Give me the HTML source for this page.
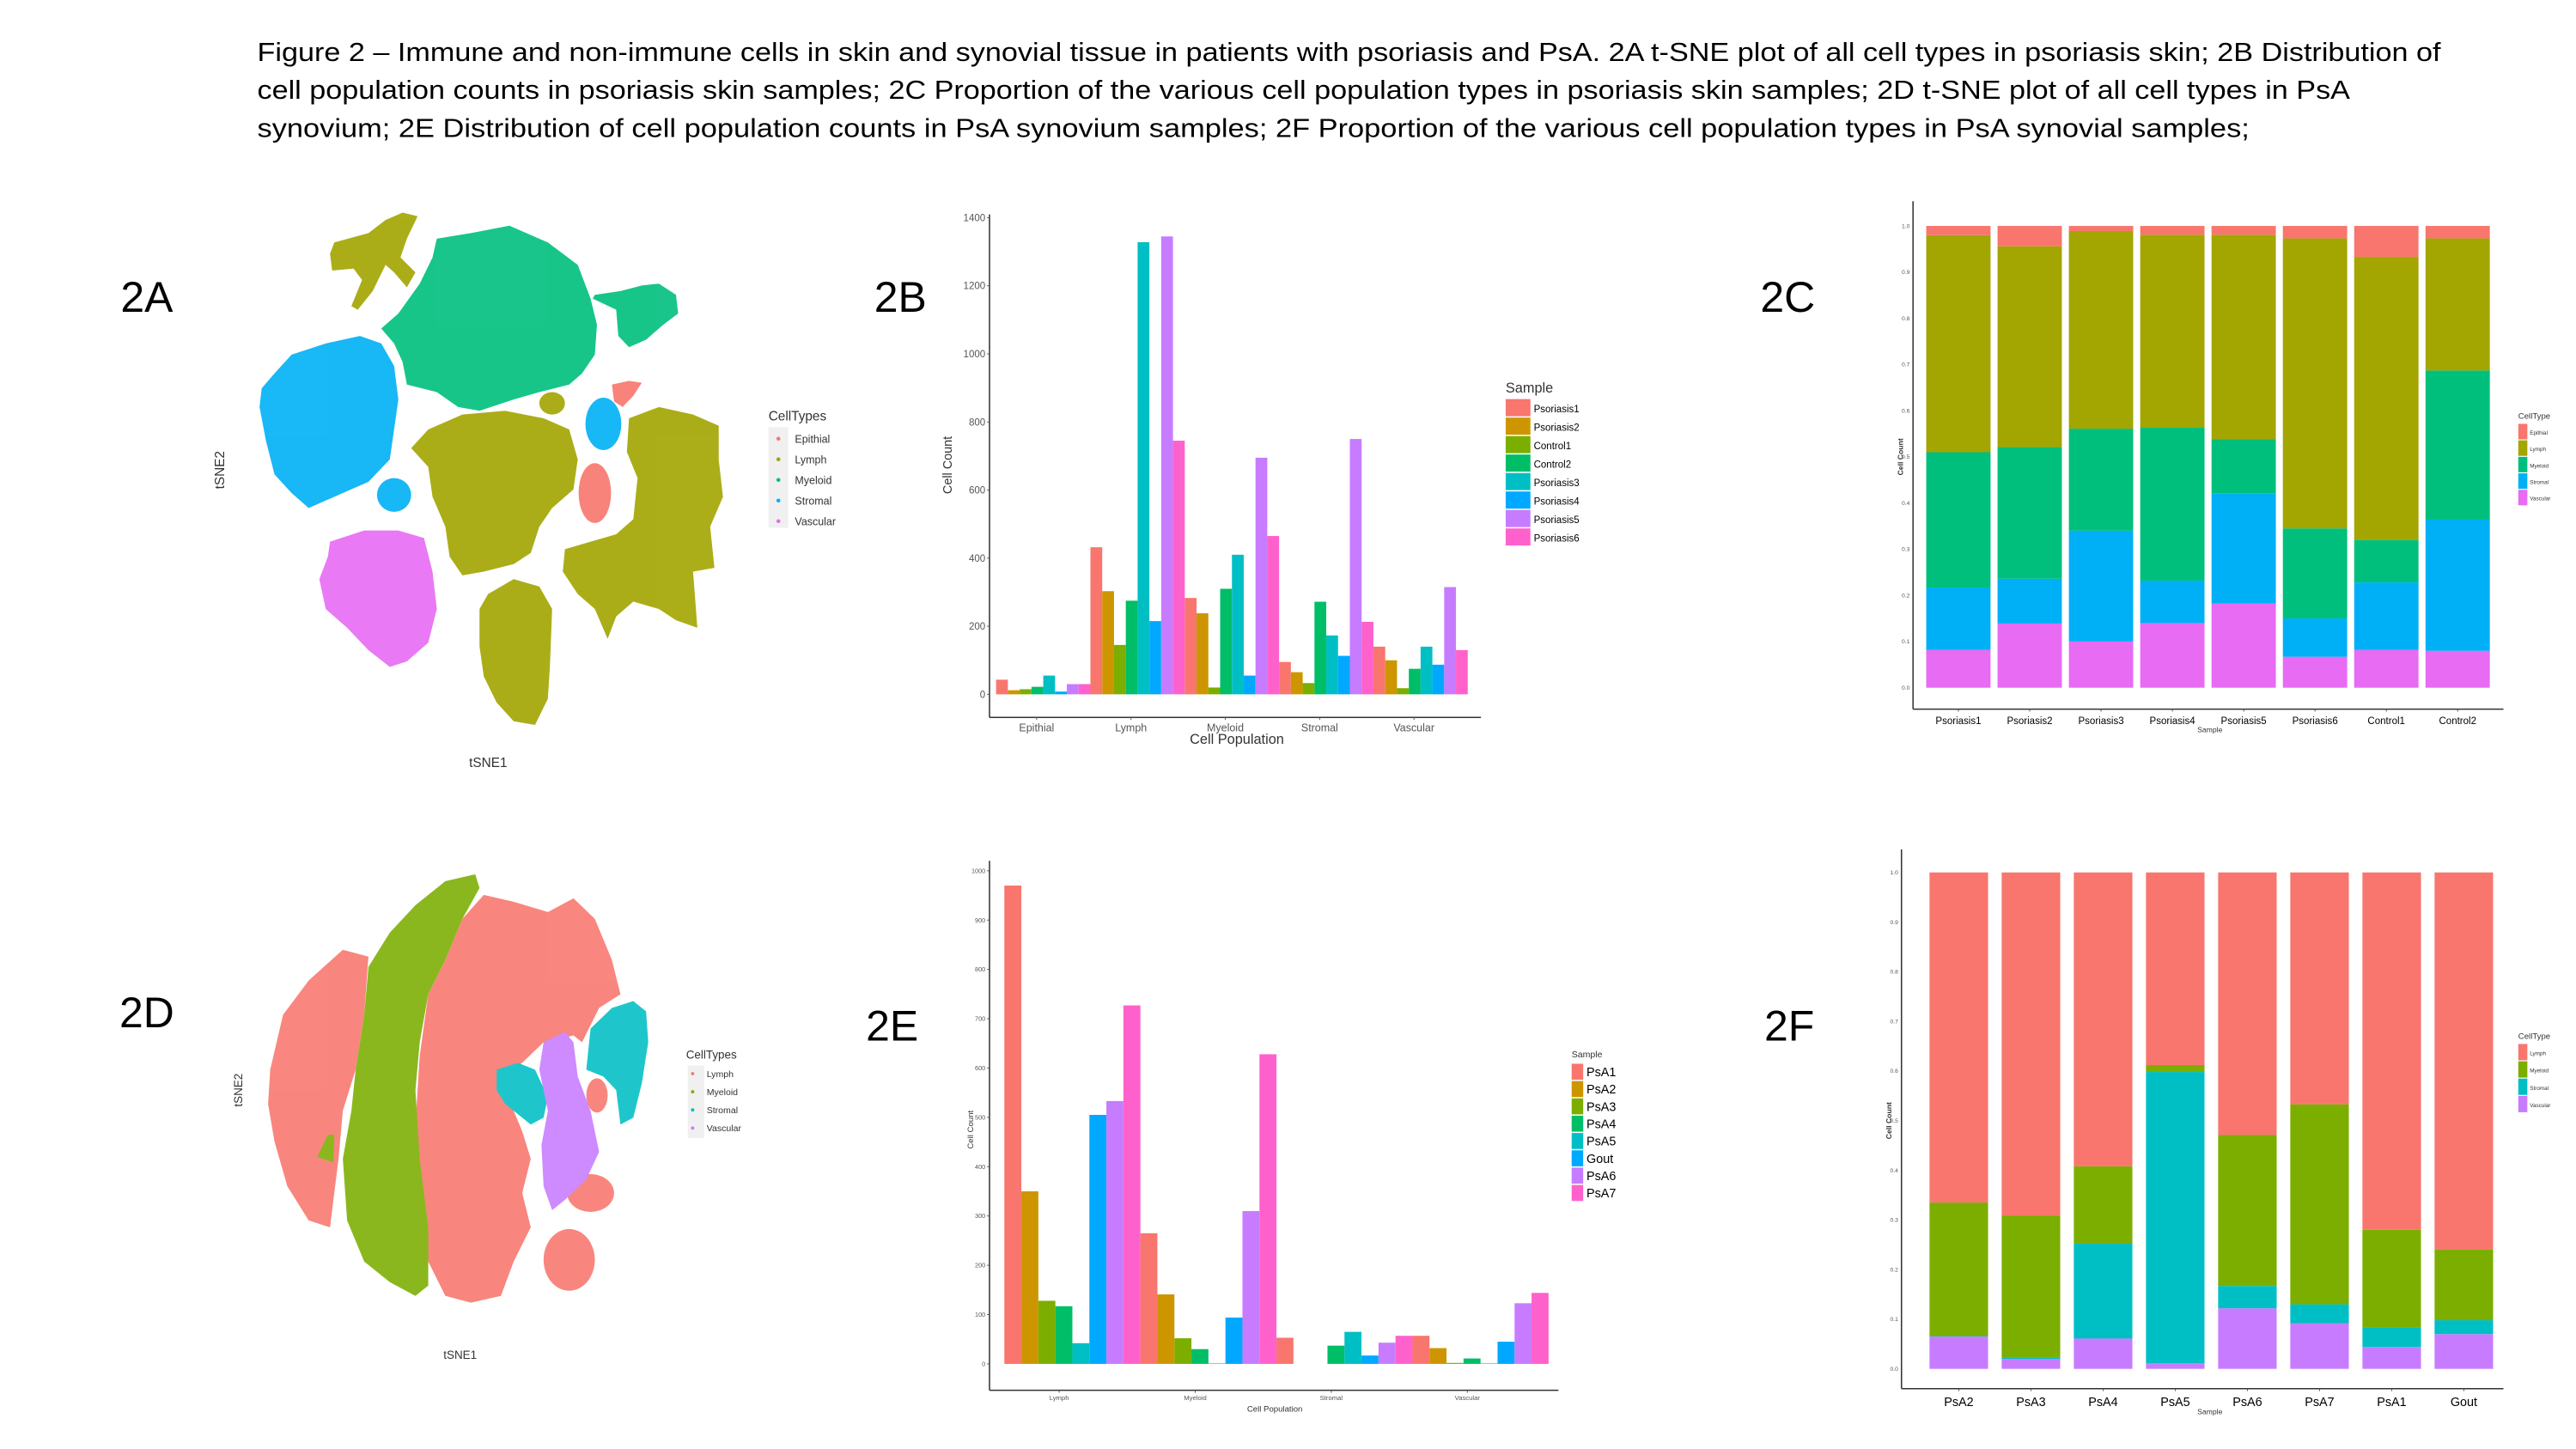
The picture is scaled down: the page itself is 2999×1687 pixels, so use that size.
<!DOCTYPE html>
<html><head><meta charset="utf-8">
<style>
html,body{margin:0;padding:0;background:#fff;}
svg{display:block;}
text{font-family:"Liberation Sans",sans-serif;}
</style></head>
<body>
<svg id="fig" xmlns="http://www.w3.org/2000/svg" width="2999" height="1687" viewBox="0 0 1562 878.6" preserveAspectRatio="none">
<rect width="1562" height="878.6" fill="#fff"/>
<g font-size="16" fill="#000">
<text x="156" y="37" textLength="1324" lengthAdjust="spacingAndGlyphs">Figure 2 – Immune and non-immune cells in skin and synovial tissue in patients with psoriasis and PsA. 2A t-SNE plot of all cell types in psoriasis skin; 2B Distribution of</text>
<text x="156" y="60" textLength="1269" lengthAdjust="spacingAndGlyphs">cell population counts in psoriasis skin samples; 2C Proportion of the various cell population types in psoriasis skin samples; 2D t-SNE plot of all cell types in PsA</text>
<text x="156" y="83" textLength="1208" lengthAdjust="spacingAndGlyphs">synovium; 2E Distribution of cell population counts in PsA synovium samples; 2F Proportion of the various cell population types in PsA synovial samples;</text>
</g>
<g font-size="26" fill="#000" text-anchor="middle">
<text x="89" y="189">2A</text>
<text x="546" y="189">2B</text>
<text x="1084" y="189">2C</text>
<text x="89" y="623">2D</text>
<text x="541" y="631">2E</text>
<text x="1085" y="631">2F</text>
</g>

<!-- 2A t-SNE -->
<g>
<g transform="translate(125,119.8) scale(0.259,0.2268)" opacity="0.9">
<path fill="#A3A500" d="M300,120 L380,95 L420,60 L460,40 L495,50 L470,110 L455,160 L490,200 L470,240 L440,200 L420,180 L390,250 L355,300 L340,290 L365,220 L345,190 L295,195 L290,150 Z"/>
<path fill="#00BF7D" d="M540,110 L620,95 L710,75 L800,120 L870,180 L900,270 L915,340 L910,420 L880,470 L850,500 L780,520 L720,540 L640,570 L590,560 L540,520 L470,500 L460,440 L440,390 L410,350 L450,310 L500,230 L530,160 Z"/>
<path fill="#00BF7D" d="M910,260 L970,250 L1020,235 L1060,230 L1100,260 L1105,310 L1070,340 L1030,380 L990,400 L965,370 L960,300 L905,270 Z"/>
<path fill="#00B0F6" d="M160,470 L200,420 L280,390 L360,370 L410,390 L440,450 L450,540 L440,620 L430,700 L380,760 L320,790 L240,830 L200,790 L160,740 L140,650 L125,560 L130,510 Z"/>
<ellipse fill="#00B0F6" cx="440" cy="795" rx="40" ry="45"/>
<ellipse fill="#00B0F6" cx="930" cy="605" rx="42" ry="70"/>
<path fill="#F8766D" d="M950,500 L990,490 L1020,495 L1000,530 L975,560 L955,545 Z"/>
<ellipse fill="#F8766D" cx="910" cy="790" rx="38" ry="80"/>
<path fill="#A3A500" d="M520,620 L600,580 L700,570 L790,590 L850,620 L870,700 L860,780 L810,830 L780,880 L760,950 L720,980 L650,1000 L600,1010 L570,960 L560,880 L530,800 L520,720 L480,670 Z"/>
<path fill="#A3A500" d="M660,1060 L720,1020 L780,1040 L810,1100 L805,1250 L800,1340 L770,1410 L720,1400 L680,1350 L650,1280 L640,1200 L640,1100 Z"/>
<path fill="#A3A500" d="M990,590 L1060,560 L1140,580 L1200,610 L1200,700 L1210,800 L1180,880 L1190,990 L1140,1000 L1150,1150 L1100,1130 L1060,1100 L1000,1080 L960,1120 L940,1180 L910,1100 L870,1060 L835,1000 L840,940 L900,920 L960,900 L1000,860 L1010,750 L985,680 Z"/>
<ellipse fill="#A3A500" cx="810" cy="550" rx="30" ry="30"/>
<path fill="#E76BF3" d="M290,920 L370,890 L450,890 L510,910 L530,1000 L540,1100 L520,1190 L470,1240 L430,1255 L380,1210 L330,1150 L280,1100 L265,1020 L285,960 Z"/>
</g>
<text x="296" y="465" font-size="8" fill="#333" text-anchor="middle">tSNE1</text>
<text transform="translate(136,285) rotate(-90)" font-size="8" fill="#333" text-anchor="middle">tSNE2</text>
<g>
<text x="466" y="255" font-size="8" fill="#333">CellTypes</text>
<rect x="466" y="259" width="12" height="61" fill="#f0f0f0"/>
<circle cx="472" cy="266" r="1.2" fill="#F8766D"/><text x="482" y="268.5" font-size="6.5" fill="#333">Epithial</text>
<circle cx="472" cy="278.5" r="1.2" fill="#A3A500"/><text x="482" y="281" font-size="6.5" fill="#333">Lymph</text>
<circle cx="472" cy="291" r="1.2" fill="#00BF7D"/><text x="482" y="293.5" font-size="6.5" fill="#333">Myeloid</text>
<circle cx="472" cy="303.5" r="1.2" fill="#00B0F6"/><text x="482" y="306" font-size="6.5" fill="#333">Stromal</text>
<circle cx="472" cy="316" r="1.2" fill="#E76BF3"/><text x="482" y="318.5" font-size="6.5" fill="#333">Vascular</text>
</g>
</g>

<!-- 2D t-SNE -->
<g>
<g transform="translate(125,515.6) scale(0.259,0.2078)" opacity="0.88">
<path fill="#F8766D" d="M150,640 L180,480 L240,380 L320,290 L380,310 L370,480 L350,640 L320,760 L310,900 L300,1000 L290,1100 L240,1080 L190,980 L160,850 L145,740 Z"/>
<path fill="#F8766D" d="M600,200 L650,130 L720,150 L800,180 L860,140 L910,200 L950,320 L970,420 L920,460 L880,560 L860,540 L790,560 L740,620 L690,660 L720,760 L740,820 L760,900 L740,1000 L760,1100 L720,1200 L690,1300 L620,1320 L560,1300 L520,1200 L500,1000 L490,800 L500,600 L520,420 L560,320 Z"/>
<ellipse fill="#F8766D" cx="850" cy="1195" rx="60" ry="90"/>
<ellipse fill="#F8766D" cx="900" cy="1000" rx="55" ry="55"/>
<ellipse fill="#F8766D" cx="915" cy="715" rx="25" ry="50"/>
<path fill="#7CAE00" d="M380,340 L430,240 L490,160 L560,90 L630,70 L640,110 L600,200 L560,320 L520,420 L500,560 L490,700 L500,900 L520,1100 L520,1270 L490,1300 L430,1260 L370,1200 L330,1080 L320,900 L340,760 L350,640 L370,480 Z"/>
<path fill="#7CAE00" d="M285,830 L300,830 L298,910 L260,895 Z"/>
<path fill="#00BFC4" d="M680,640 L730,620 L770,640 L800,720 L790,780 L760,800 L740,780 L700,740 L680,700 Z"/>
<path fill="#C77CFF" d="M790,560 L840,530 L860,560 L870,660 L900,760 L920,880 L890,960 L840,1020 L810,1050 L790,980 L785,860 L800,760 L780,640 Z"/>
<path fill="#00BFC4" d="M900,520 L950,460 L1000,440 L1030,470 L1035,560 L1020,680 L1000,780 L970,800 L960,700 L930,660 L890,640 Z"/>
</g>
<text x="279" y="824" font-size="7" fill="#333" text-anchor="middle">tSNE1</text>
<text transform="translate(147,661) rotate(-90)" font-size="7" fill="#333" text-anchor="middle">tSNE2</text>
<g>
<text x="416" y="642" font-size="7" fill="#333">CellTypes</text>
<rect x="417" y="646" width="10" height="44" fill="#f0f0f0"/>
<circle cx="420" cy="651" r="1" fill="#F8766D"/><text x="428.5" y="653" font-size="5.5" fill="#333">Lymph</text>
<circle cx="420" cy="662" r="1" fill="#7CAE00"/><text x="428.5" y="664" font-size="5.5" fill="#333">Myeloid</text>
<circle cx="420" cy="673" r="1" fill="#00BFC4"/><text x="428.5" y="675" font-size="5.5" fill="#333">Stromal</text>
<circle cx="420" cy="684" r="1" fill="#C77CFF"/><text x="428.5" y="686" font-size="5.5" fill="#333">Vascular</text>
</g>
</g>

<g id="c2b"></g>
<g id="c2c"></g>
<g id="c2e"></g>
<g id="c2f"></g>
</svg>

<script>
// ---------- 2B data ----------
const skinCategories = ["Epithial","Lymph","Myeloid","Stromal","Vascular"];
const skinSamples = ["Psoriasis1","Psoriasis2","Control1","Control2","Psoriasis3","Psoriasis4","Psoriasis5","Psoriasis6"];
const skinEpithial = [43,12,15,22,55,8,30,30];
const skinLymph = [432,303,145,275,1328,215,1345,745];
const skinMyeloid = [283,238,20,310,410,55,695,465];
const skinStromal = [95,65,33,272,173,113,750,213];
const skinVascular = [140,100,18,75,140,87,315,130];
const skinTicks = [0,200,400,600,800,1000,1200,1400];
// ---------- 2E data ----------
const synCategories = ["Lymph","Myeloid","Stromal","Vascular"];
const synSamples = ["PsA1","PsA2","PsA3","PsA4","PsA5","Gout","PsA6","PsA7"];
const synLymph = [970,350,128,117,42,505,533,727];
const synMyeloid = [265,141,52,30,1,94,310,628];
const synStromal = [53,0,0,37,65,17,43,57];
const synVascular = [57,32,2,11,1,45,123,144];
const synTicks = [0,100,200,300,400,500,600,700,800,900,1000];
// ---------- 2C data ----------
const propSkinSamples = ["Psoriasis1","Psoriasis2","Psoriasis3","Psoriasis4","Psoriasis5","Psoriasis6","Control1","Control2"];
const propSkinTypes = ["Epithial","Lymph","Myeloid","Stromal","Vascular"];
const propSkinVascular = [0.082,0.139,0.100,0.140,0.182,0.067,0.082,0.080];
const propSkinStromal = [0.135,0.097,0.240,0.092,0.239,0.083,0.146,0.284];
const propSkinMyeloid = [0.293,0.285,0.221,0.331,0.117,0.195,0.092,0.323];
const propSkinLymph = [0.470,0.435,0.428,0.418,0.443,0.628,0.613,0.286];
const propSkinEpithial = [0.020,0.044,0.011,0.019,0.019,0.027,0.067,0.027];
// ---------- 2F data ----------
const propSynSamples = ["PsA2","PsA3","PsA4","PsA5","PsA6","PsA7","PsA1","Gout"];
const propSynTypes = ["Lymph","Myeloid","Stromal","Vascular"];
const propSynVascular = [0.065,0.020,0.061,0.011,0.122,0.092,0.044,0.070];
const propSynStromal = [0.001,0.003,0.191,0.587,0.045,0.038,0.040,0.028];
const propSynMyeloid = [0.269,0.286,0.156,0.014,0.304,0.403,0.196,0.142];
const propSynLymph = [0.665,0.691,0.592,0.388,0.529,0.467,0.720,0.760];
const propTicks = [0,0.1,0.2,0.3,0.4,0.5,0.6,0.7,0.8,0.9,1.0];

const hue8 = ["#F8766D","#CD9600","#7CAE00","#00BE67","#00BFC4","#00A9FF","#C77CFF","#FF61CC"];
const hue5 = ["#F8766D","#A3A500","#00BF7D","#00B0F6","#E76BF3"];
const hue4 = ["#F8766D","#7CAE00","#00BFC4","#C77CFF"];
const NS = "http://www.w3.org/2000/svg";
function mk(parent, tag, attrs, txt){
  const e = document.createElementNS(NS, tag);
  for (const k in attrs) e.setAttribute(k, attrs[k]);
  if (txt !== undefined) e.textContent = txt;
  parent.appendChild(e);
  return e;
}

function groupedChart(g, o){
  const y = v => o.y0 - (v / o.vmax) * (o.y0 - o.yTop);
  const ns = o.series[0].length;
  const n = ns * o.cats.length;
  const bw = (o.x1 - o.x0) / n;
  const ya = mk(g,"line",{x1:o.ax,y1:o.axTop,x2:o.ax,y2:o.axY,stroke:"#333","stroke-width":0.8});
  
  
  const xa = mk(g,"line",{x1:o.ax,y1:o.axY,x2:o.axRight,y2:o.axY,stroke:"#333","stroke-width":0.8});
  
  
  o.ticks.forEach(t=>{
    const tl = mk(g,"text",{x:o.ax-2.5,y:y(t)+o.tfs*0.35,"font-size":o.tfs,fill:"#555","text-anchor":"end"},String(t));
    
    
    mk(g,"line",{x1:o.ax-1.5,y1:y(t),x2:o.ax,y2:y(t),stroke:"#555","stroke-width":0.5});
  });
  o.cats.forEach((c,ci)=>{
    const vals = o.series[ci];
    vals.forEach((v,si)=>{
      const idx = ci*ns + si;
      const r = mk(g,"rect",{x:o.x0+idx*bw,y:y(v),width:bw,height:Math.max(0,o.y0-y(v)),fill:o.colors[si]});
      
      
    });
    const cx = o.x0 + (ci*ns + ns/2)*bw + o.labOff;
    mk(g,"line",{x1:cx,y1:o.axY,x2:cx,y2:o.axY+1.5,stroke:"#555","stroke-width":0.5});
    const xl = mk(g,"text",{x:cx,y:o.axY+o.xfs+2,"font-size":o.xfs,fill:"#555","text-anchor":"middle"},c);
    
    
  });
  const xt = mk(g,"text",{x:o.xtX,y:o.xtY,"font-size":o.xtfs,fill:"#333","text-anchor":"middle"},"Cell Population");
  
  
  const yt = mk(g,"text",{transform:`translate(${o.ytX},${o.ytY}) rotate(-90)`,"font-size":o.ytfs,fill:"#333","text-anchor":"middle"},"Cell Count");
  
  
  const lt = mk(g,"text",{x:o.lx,y:o.ly,"font-size":o.ltfs,fill:"#333"},"Sample");
  
  
  o.samples.forEach((s,i)=>{
    const yy = o.ly + 4 + i*o.lstep;
    const sw = mk(g,"rect",{x:o.lx,y:yy,width:o.lsw,height:o.lstep-0.8,fill:o.colors[i]});
    
    
    const le = mk(g,"text",{x:o.lx+o.lsw+2,y:yy+o.lstep*0.72,"font-size":o.lfs,fill:"#000"},s);
    
    
  });
}

groupedChart(document.getElementById('c2b'),{
  cats:skinCategories, samples:skinSamples,
  series:[skinEpithial,skinLymph,skinMyeloid,skinStromal,skinVascular],
  colors:hue8, vmax:1400, y0:421, yTop:132, x0:604, x1:890,
  ax:600, axTop:130, axY:435, axRight:898, ticks:skinTicks, tfs:6,
  xfs:6.5, labOff:-4, xtX:750, xtY:451, xtfs:8.5, ytX:577, ytY:282, ytfs:7.5,
  lx:913, ly:238, ltfs:8.5, lstep:11.2, lsw:15, lfs:6
});
groupedChart(document.getElementById('c2e'),{
  cats:synCategories, samples:synSamples,
  series:[synLymph,synMyeloid,synStromal,synVascular],
  colors:hue8, vmax:1000, y0:827, yTop:528, x0:609, x1:939,
  ax:600, axTop:522, axY:843, axRight:945, ticks:synTicks, tfs:3.8,
  xfs:4, labOff:-8, xtX:773, xtY:856, xtfs:5, ytX:590, ytY:685, ytfs:5,
  lx:953, ly:641, ltfs:5.5, lstep:10.5, lsw:7, lfs:7.5
});

function stackedChart(g, o){
  const y = v => o.y0 - v*(o.y0 - o.y1);
  const ya = mk(g,"line",{x1:o.ax,y1:o.axTop,x2:o.ax,y2:o.axY,stroke:"#333","stroke-width":0.8});
  
  
  const xa = mk(g,"line",{x1:o.ax,y1:o.axY,x2:o.axRight,y2:o.axY,stroke:"#333","stroke-width":0.8});
  
  
  propTicks.forEach(t=>{
    const tl = mk(g,"text",{x:o.ax-2,y:y(t)+1.2,"font-size":3.5,fill:"#555","text-anchor":"end"},t.toFixed(1));
    
    
  });
  const pitch = (o.x1 - o.x0)/o.samples.length;
  o.samples.forEach((s,i)=>{
    let acc = 0;
    const bx = o.x0 + i*pitch;
    for (let k=o.layers.length-1;k>=0;k--){
      const v = o.layers[k][i];
      const r = mk(g,"rect",{x:bx,y:y(acc+v),width:o.bw,height:y(acc)-y(acc+v),fill:o.colors[k]});
      
      
      acc += v;
    }
    const cx = bx + o.bw/2;
    mk(g,"line",{x1:cx,y1:o.axY,x2:cx,y2:o.axY+1.5,stroke:"#555","stroke-width":0.5});
    const xl = mk(g,"text",{x:cx,y:o.axY+o.xfs+3,"font-size":o.xfs,fill:"#000","text-anchor":"middle"},s);
    
    
  });
  const xt = mk(g,"text",{x:1340,y:o.axY+o.xfs+8,"font-size":4.5,fill:"#333","text-anchor":"middle"},"Sample");
  
  
  const yt = mk(g,"text",{transform:`translate(${o.ax-6},${(o.y0+o.y1)/2}) rotate(-90)`,"font-size":4.5,fill:"#333","text-anchor":"middle","font-weight":"bold"},"Cell Count");
  
  
  const lt = mk(g,"text",{x:1527,y:o.ly,"font-size":5,fill:"#333"},"CellType");
  
  
  o.types.forEach((t,i)=>{
    const yy = o.ly + 3 + i*o.lstep;
    const sw = mk(g,"rect",{x:1527,y:yy,width:5.5,height:o.lstep-0.6,fill:o.colors[i]});
    
    
    const le = mk(g,"text",{x:1534,y:yy+o.lstep*0.65,"font-size":3.3,fill:"#333"},t);
    
    
  });
}

stackedChart(document.getElementById('c2c'),{
  samples:propSkinSamples, types:propSkinTypes, colors:hue5,
  layers:[propSkinEpithial,propSkinLymph,propSkinMyeloid,propSkinStromal,propSkinVascular],
  y0:417, y1:137, x0:1168, x1:1514, bw:39, ax:1160, axTop:122, axY:430, axRight:1518,
  xfs:6, ly:254, lstep:10
});
stackedChart(document.getElementById('c2f'),{
  samples:propSynSamples, types:propSynTypes, colors:hue4,
  layers:[propSynLymph,propSynMyeloid,propSynStromal,propSynVascular],
  y0:830, y1:529, x0:1170, x1:1520, bw:35.5, ax:1153, axTop:515, axY:842, axRight:1518,
  xfs:7.5, ly:630, lstep:10.5
});
</script>
</body></html>
